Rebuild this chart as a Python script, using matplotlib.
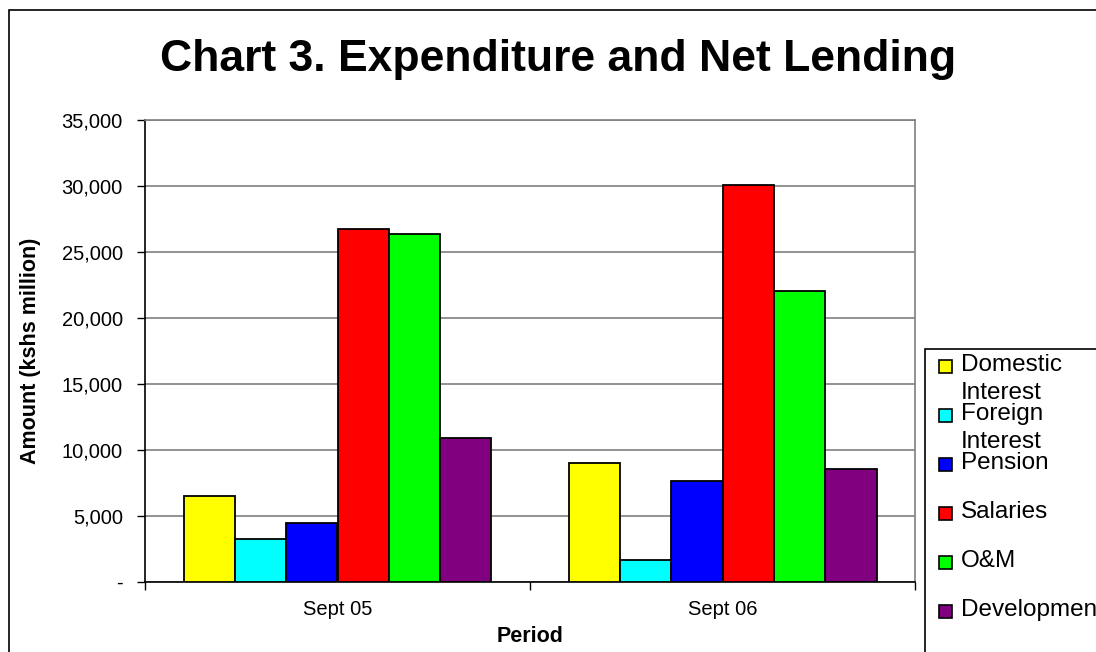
import matplotlib.pyplot as plt
import numpy as np
from matplotlib.patches import Rectangle
from matplotlib.ticker import FuncFormatter, FixedLocator

plt.rcParams['font.family'] = ['Liberation Sans', 'DejaVu Sans']

# data (kshs million)
periods = ['Sept 05', 'Sept 06']
series = ['Domestic\nInterest', 'Foreign\nInterest', 'Pension', 'Salaries', 'O&M', 'Development']
domestic = [6450, 8990]
foreign = [3200, 1600]
pension = [4450, 7650]
salaries = [26750, 30050]
om = [26350, 22000]
development = [10850, 8550]
colors = ['#ffff00', '#00ffff', '#0000ff', '#ff0000', '#00ff00', '#800080']

values = [domestic, foreign, pension, salaries, om, development]

W, H = 1096, 652
fig = plt.figure(figsize=(W / 100, H / 100), dpi=100)
fig.patch.set_facecolor('white')

# axes placed in pixels
l, r, t, b = 145, 915, 120, 581.5
ax = fig.add_axes([l / W, 1 - b / H, (r - l) / W, (b - t) / H])

x = np.arange(len(periods))
n = len(series)
bw = 0.8 / n
for i, (vals, c) in enumerate(zip(values, colors)):
    ax.bar(x - 0.4 + bw * (i + 0.5), vals, width=bw, color=c,
           edgecolor='black', linewidth=1.3, zorder=3)

ax.set_xlim(-0.5, len(periods) - 0.5)
ax.set_ylim(0, 35000)
ax.set_yticks(np.arange(0, 35001, 5000))
ax.yaxis.set_major_formatter(FuncFormatter(lambda v, p: '-' if v == 0 else f'{v:,.0f}'))
ax.yaxis.grid(True, color='#808080', linewidth=1.2, zorder=0)

ax.set_xticks(x)
ax.set_xticklabels(periods, fontsize=14.5)
ax.xaxis.set_minor_locator(FixedLocator([-0.5, 0.5, 1.5]))
ax.tick_params(axis='x', which='major', length=0, pad=13)
ax.tick_params(axis='x', which='minor', length=6, width=1, color='black', direction='out')
ax.tick_params(axis='y', length=6, width=1, direction='out', labelsize=14.5, pad=10)

for s in ['top', 'right']:
    ax.spines[s].set_color('#808080')
    ax.spines[s].set_linewidth(1.2)
for s in ['left', 'bottom']:
    ax.spines[s].set_color('black')
    ax.spines[s].set_linewidth(1.2)

ax.set_xlabel('Period', fontsize=15.5, fontweight='bold')
ax.set_ylabel('Amount (kshs million)', fontsize=15.5, fontweight='bold')
ax.xaxis.set_label_coords(0.5, -(636 - b) / (b - t))
ax.yaxis.set_label_coords(-(145 - 31) / (r - l), 0.5)
ax.xaxis.label.set_va('center')
ax.yaxis.label.set_va('center')

fig.text(558 / W, 1 - 60 / H, 'Chart 3. Expenditure and Net Lending',
         ha='center', va='center', fontsize=32, fontweight='bold')

# outer chart border
fig.patches.append(Rectangle((9 / W, -0.1), 1.2, 1 - 10 / H + 0.1,
                             transform=fig.transFigure, fill=False,
                             edgecolor='black', linewidth=1.2))

# legend box drawn by hand (Excel style, wrapped labels)
fig.patches.append(Rectangle((925 / W, -0.1), 0.5, 1 - 349 / H + 0.1,
                             transform=fig.transFigure, facecolor='white',
                             edgecolor='black', linewidth=1.2, zorder=5))
for i, (name, c) in enumerate(zip(series, colors)):
    ytop = 360 + i * 49
    fig.patches.append(Rectangle((939 / W, 1 - (ytop + 13) / H), 13 / W, 13 / H,
                                 transform=fig.transFigure, facecolor=c,
                                 edgecolor='black', linewidth=1.2, zorder=6))
    fig.text(961 / W, 1 - (ytop - 6) / H, name, ha='left', va='top',
             fontsize=17.5, linespacing=1.35, zorder=7)

fig.savefig('out.png', dpi=100)
